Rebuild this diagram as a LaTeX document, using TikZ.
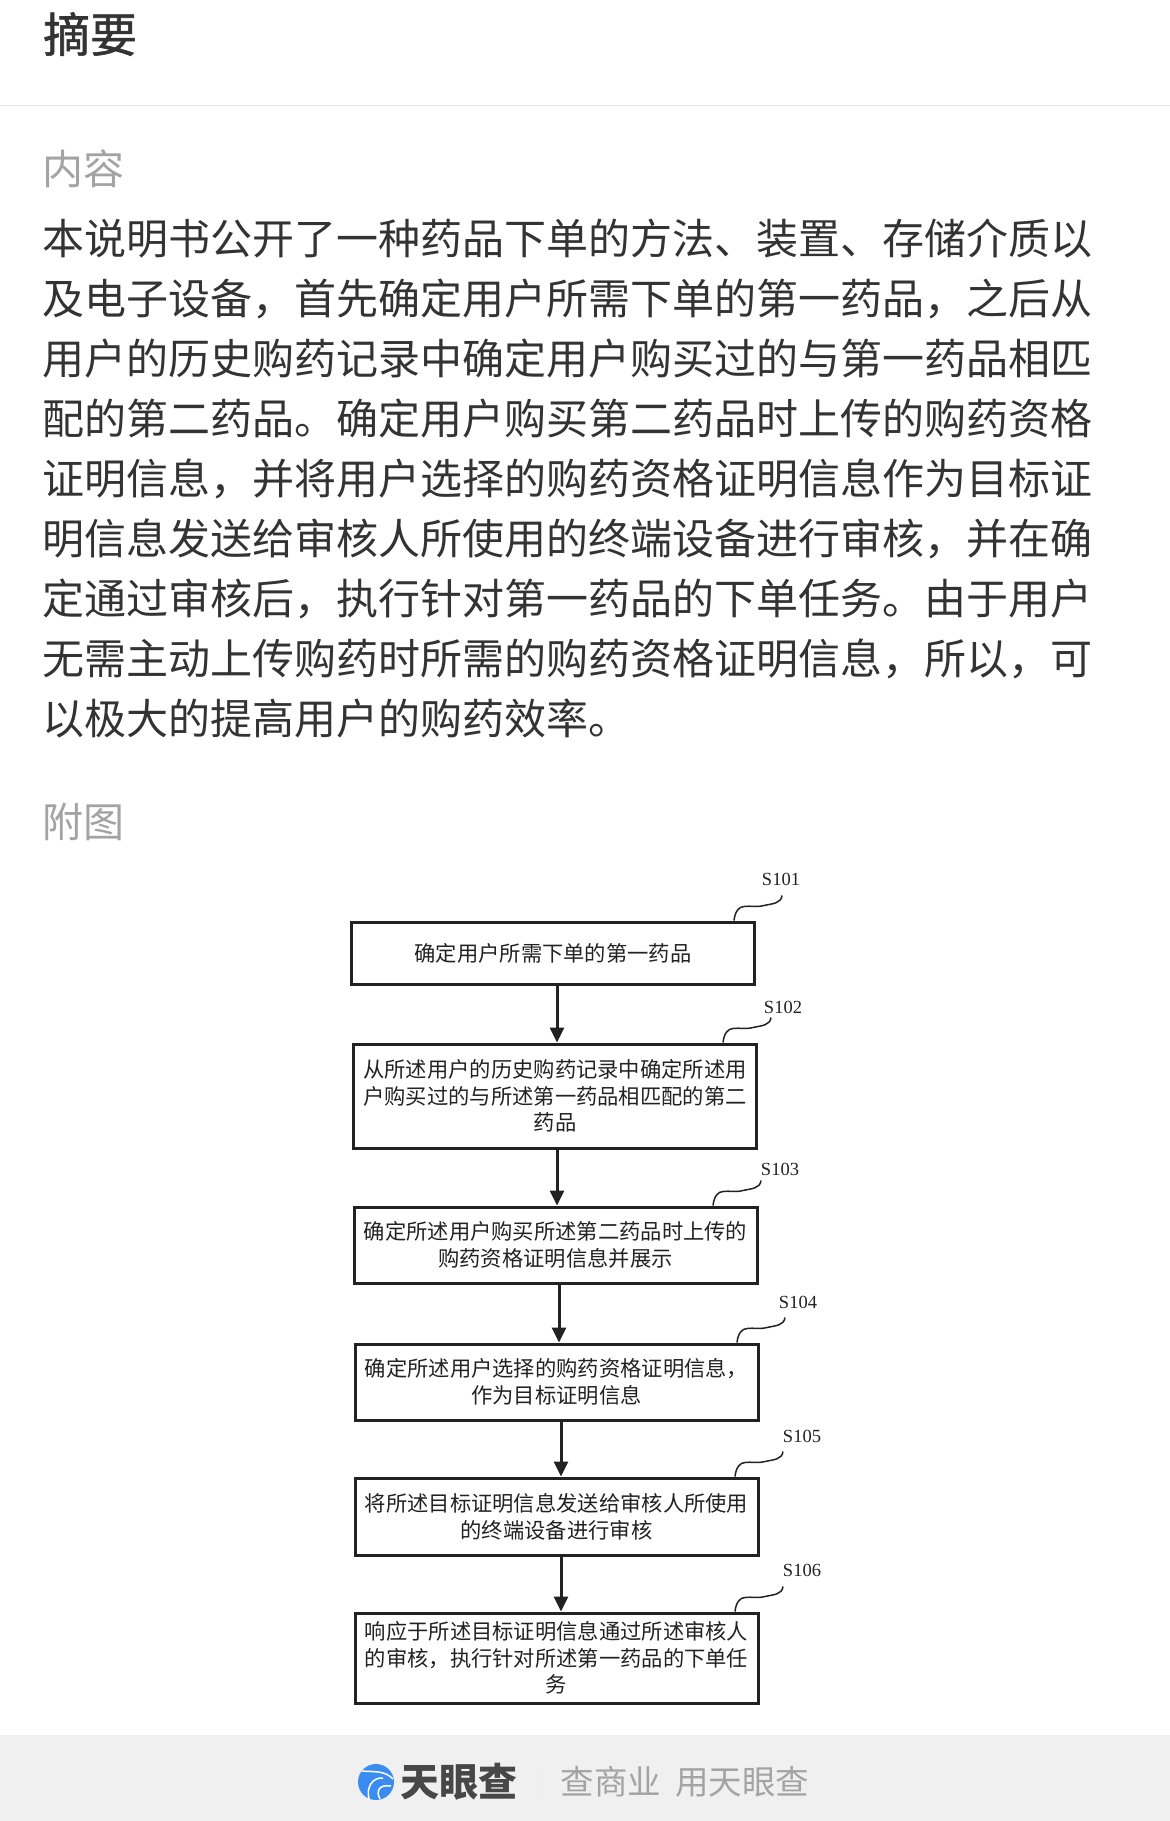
\documentclass[tikz,border=0pt]{standalone}
\usepackage{fontspec}
\setmainfont{Liberation Serif}
\newfontfamily\cjk{Noto Sans CJK SC}
\newfontfamily\cjkheavy[FakeBold=1.2]{Noto Sans CJK SC}
\usetikzlibrary{arrows.meta}
\definecolor{inkdark}{HTML}{333333}
\definecolor{inkgrey}{HTML}{A3A3A3}
\definecolor{boxline}{HTML}{222222}
\definecolor{footbar}{HTML}{F0F0F0}
\definecolor{logoblue}{HTML}{3B8CF0}
\tikzset{
	tailwave/.style={insert path={.. controls +(1,9) and +(-5,0) .. ++(10,14) .. controls +(7,1) and +(-8,-2) .. ++(20,1) .. controls +(9,2) and +(-1,-8) .. ++(18,10)}}
}
\begin{document}
\begin{tikzpicture}[x=1pt, y=1pt,
	stepbox/.style={draw=boxline, line width=3pt, minimum width=403pt, align=center, inner sep=0pt, font=\cjk\fontsize{21.3}{26.7}\selectfont, text=boxline},
	steptag/.style={inner sep=0pt, font=\fontsize{18.5}{20}\selectfont, text=boxline},
	heading/.style={anchor=west, inner sep=0pt, font=\cjk\fontsize{41}{50}\selectfont, text=inkgrey},
	flow/.style={line width=3pt, draw=boxline, -{Triangle[width=14pt, length=15pt]}},
	tailline/.style={draw=boxline, line width=1.5pt}]
	\useasboundingbox (0, 0) rectangle (1170, -1821);
	\fill[white] (0, 0) rectangle (1170, -1821);

	% page head and abstract
	\node[anchor=west, inner sep=0pt, font=\cjkheavy\fontsize{47}{56}\selectfont, text=inkdark] at (43, -34) (title) {摘要};
	\draw[draw=black!11, line width=1pt] (0, -105.5) -- (1170, -105.5);
	\node[heading] at (42.5, -169) (content) {内容};
	\node[anchor=west, align=left, inner sep=0pt, font=\cjk\fontsize{42}{60}\selectfont, text=inkdark] at (42, -479) (abstract) {本说明书公开了一种药品下单的方法、装置、存储介质以\\
		及电子设备，首先确定用户所需下单的第一药品，之后从\\
		用户的历史购药记录中确定用户购买过的与第一药品相匹\\
		配的第二药品。确定用户购买第二药品时上传的购药资格\\
		证明信息，并将用户选择的购药资格证明信息作为目标证\\
		明信息发送给审核人所使用的终端设备进行审核，并在确\\
		定通过审核后，执行针对第一药品的下单任务。由于用户\\
		无需主动上传购药时所需的购药资格证明信息，所以，可\\
		以极大的提高用户的购药效率。};
	\node[heading] at (42.5, -822) (figure) {附图};

	% flow steps
	\node[stepbox, minimum height=62pt] at (553, -953) (box1) {确定用户所需下单的第一药品};
	\node[stepbox, minimum height=104pt] at (555, -1096) (box2) {从所述用户的历史购药记录中确定所述用\\户购买过的与所述第一药品相匹配的第二\\药品};
	\node[stepbox, minimum height=76pt] at (555.5, -1245) (box3) {确定所述用户购买所述第二药品时上传的\\购药资格证明信息并展示};
	\node[stepbox, minimum height=76pt] at (556.5, -1382) (box4) {确定所述用户选择的购药资格证明信息，\\作为目标证明信息};
	\node[stepbox, minimum height=77pt] at (556.5, -1516.5) (box5) {将所述目标证明信息发送给审核人所使用\\的终端设备进行审核};
	\node[stepbox, minimum height=90pt] at (556.5, -1658) (box6) {响应于所述目标证明信息通过所述审核人\\的审核，执行针对所述第一药品的下单任\\务};

	\node[steptag] at (781, -879) (s101) {S101};
	\node[steptag] at (783, -1007) (s102) {S102};
	\node[steptag] at (780, -1169) (s103) {S103};
	\node[steptag] at (798, -1302) (s104) {S104};
	\node[steptag] at (802, -1436) (s105) {S105};
	\node[steptag] at (802, -1570) (s106) {S106};

	\path
	([xshift=4pt]box1.south) edge[flow] ([xshift=2pt]box2.north)
	([xshift=2pt]box2.south) edge[flow] ([xshift=1.5pt]box3.north)
	([xshift=3.5pt]box3.south) edge[flow] ([xshift=2.5pt]box4.north)
	([xshift=4.5pt]box4.south) edge[flow] ([xshift=4.5pt]box5.north)
	([xshift=4.5pt]box5.south) edge[flow] ([xshift=4.5pt]box6.north);

	\path[tailline] ([xshift=181pt]box1.north) [tailwave];
	\path[tailline] ([xshift=168pt]box2.north) [tailwave];
	\path[tailline] ([xshift=157.5pt]box3.north) [tailwave];
	\path[tailline] ([xshift=180.5pt]box4.north) [tailwave];
	\path[tailline] ([xshift=178.5pt]box5.north) [tailwave];
	\path[tailline] ([xshift=178.5pt]box6.north) [tailwave];

	% footer bar with the logo
	\fill[footbar] (0, -1735) rectangle (1170, -1821);
	\fill[logoblue] (376, -1782) circle (18);
	\draw[white, line width=1.5pt] (362, -1771) .. controls (372, -1772) and (385, -1770) .. (393, -1779);
	\draw[white, line width=1.5pt] (369, -1799) .. controls (366, -1788) and (372, -1777) .. (383, -1778);
	\draw[white, line width=1.5pt] (380, -1799) .. controls (376, -1792) and (378, -1784) .. (391, -1786);
	\node[anchor=west, inner sep=0pt, font=\cjk\bfseries\fontsize{39}{46}\selectfont, text=black!72] at (400, -1782) (brand) {天眼查};
	\draw[draw=black!8, line width=1pt] (538, -1765) -- (538, -1800);
	\node[anchor=west, inner sep=0pt, font=\cjk\fontsize{33.5}{40}\selectfont, text=inkgrey] at (560.5, -1782) (slogan) {查商业\hspace{14pt}用天眼查};
\end{tikzpicture}
\end{document}
